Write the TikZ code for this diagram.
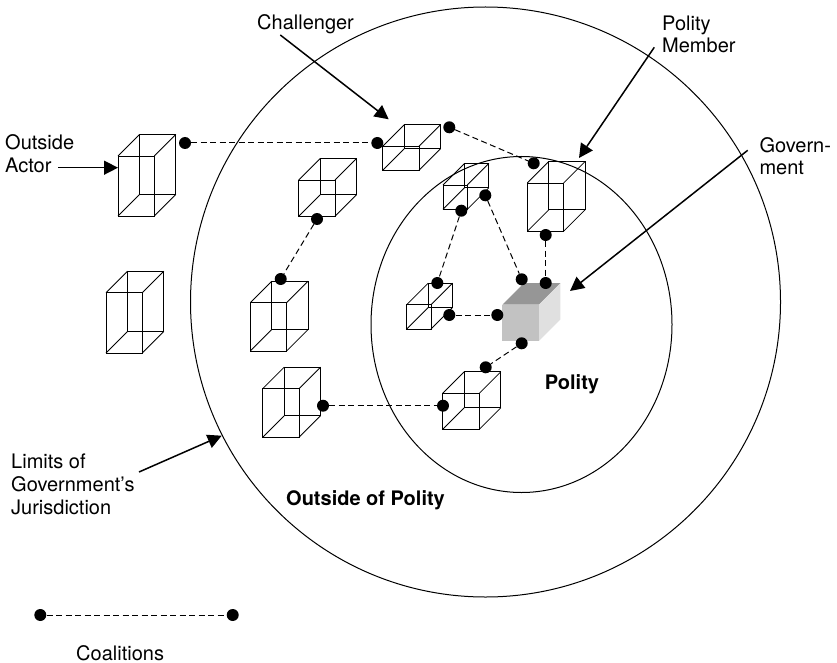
\documentclass[tikz,border=0pt]{standalone}
\usepackage{fontspec}
\setmainfont{TeX Gyre Heros}
\usetikzlibrary{arrows.meta}
\tikzset{
  dot/.style={circle, fill=black, inner sep=0pt, minimum size=12pt},
  coalition/.style={dash pattern=on 6pt off 3.5pt, line width=1pt},
  pointer/.style={-{Triangle[length=14pt,width=14pt]}, line width=1.5pt},
  wire/.style={line width=.8pt},
  label/.style={inner sep=0pt, align=left, font=\fontsize{20}{23}\selectfont},
  boldlabel/.style={inner sep=0pt, font=\fontsize{20}{23}\selectfont\bfseries},
}
% x, y of the front top left corner, then width and height
\newcommand{\wirebox}[4]{
  \draw[wire] (#1,#2) rectangle ++(#3,#4);
  \draw[wire] (#1+21.5,#2-21.5) rectangle ++(#3,#4);
  \draw[wire] (#1,#2) -- ++(21.5,-21.5);
  \draw[wire] (#1+#3,#2) -- ++(21.5,-21.5);
  \draw[wire] (#1,#2+#4) -- ++(21.5,-21.5);
  \draw[wire] (#1+#3,#2+#4) -- ++(21.5,-21.5);
}
\begin{document}
\begin{tikzpicture}[x=1pt, y=-1pt]
\useasboundingbox (0,0) rectangle (837,663);

\draw[line width=1pt] (485.5,302) circle [radius=295pt];
\draw[line width=1pt] (521.5,324.5) ellipse [x radius=150.5pt, y radius=168pt];

\wirebox{118}{156}{36.3}{60}
\wirebox{106}{292.7}{36.3}{60.3}
\wirebox{298.7}{180}{36.3}{36.3}
\wirebox{250.3}{302.7}{36.3}{48.3}
\wirebox{262.7}{388.7}{36.3}{48.6}
\wirebox{382.7}{146.3}{36.3}{24}
\wirebox{443}{185}{24.3}{24.3}
\wirebox{527.3}{183}{36.3}{48.3}
\wirebox{406.7}{304.7}{24.3}{24.3}
\wirebox{442.7}{393.3}{36.6}{36}

% government
\fill[black!41] (502.3,304.7) -- (523.8,283.2) -- (560.3,283.2) -- (538.8,304.7) -- cycle;
\fill[black!12] (538.8,304.7) -- (560.3,283.2) -- (560.3,319.5) -- (538.8,341) -- cycle;
\fill[black!24] (502.3,304.7) rectangle (538.8,341);

\node[dot] (actorright) at (185,143) {};
\node[dot] (challengerleft) at (377.3,143) {};
\node[dot] (challengerright) at (449.3,127.3) {};
\node[dot] (membertop) at (533.7,163.3) {};
\node[dot] (memberbottom) at (545.7,235) {};
\node[dot] (smallright) at (485.3,195.3) {};
\node[dot] (smallbottom) at (461.3,210.7) {};
\node[dot] (lefttop) at (437.3,283) {};
\node[dot] (leftright) at (449.3,315) {};
\node[dot] (govtopleft) at (521.7,279.3) {};
\node[dot] (govtopright) at (545.7,283) {};
\node[dot] (govleft) at (497.3,315) {};
\node[dot] (govbottom) at (521.7,343.3) {};
\node[dot] (lowertop) at (485.7,367.3) {};
\node[dot] (lowerleft) at (443,405.7) {};
\node[dot] (midbottom) at (317,219) {};
\node[dot] (midtop) at (280.7,279) {};
\node[dot] (outerright) at (323,405.7) {};
\node[dot] (legendleft) at (40.3,615) {};
\node[dot] (legendright) at (232.7,615) {};

\draw[coalition] (actorright) -- (challengerleft);
\draw[coalition] (challengerright) -- (membertop);
\draw[coalition] (smallbottom) -- (lefttop);
\draw[coalition] (smallright) -- (govtopleft);
\draw[coalition] (memberbottom) -- (govtopright);
\draw[coalition] (leftright) -- (govleft);
\draw[coalition] (govbottom) -- (lowertop);
\draw[coalition] (midbottom) -- (midtop);
\draw[coalition] (outerright) -- (lowerleft);
\draw[coalition] (legendleft) -- (legendright);

\node[label, anchor=base west] (challenger) at (257,30) {Challenger};
\node[label, anchor=base west] (outside) at (5,150) {Outside};
\node[label, anchor=base west] (actor) at (5,172.7) {Actor};
\node[label, anchor=base west] (polity) at (662,30.7) {Polity};
\node[label, anchor=base west] (member) at (662,53) {Member};
\node[label, anchor=base west] (govern) at (759.3,153) {Govern-};
\node[label, anchor=base west] (ment) at (759.3,175) {ment};
\node[label, anchor=base west] (limits) at (11,468.3) {Limits of};
\node[label, anchor=base west] (government) at (11,491) {Government’s};
\node[label, anchor=base west] (jurisdiction) at (11,514) {Jurisdiction};
\node[label, anchor=base west] (coalitions) at (76,660) {Coalitions};
\node[boldlabel, anchor=base west] (inner) at (544.7,389.3) {Polity};
\node[boldlabel, anchor=base west] (outer) at (286,505) {Outside of Polity};

\coordinate (challengertail) at (280.3,35);
\coordinate (challengertip) at (388.7,119.3);
\coordinate (actortail) at (58,167.7);
\coordinate (actortip) at (118,167.7);
\coordinate (membertail) at (654.3,47.3);
\coordinate (membertip) at (579,158);
\coordinate (govtail) at (747.7,150.3);
\coordinate (govtip) at (570,291);
\coordinate (limitstail) at (139,472);
\coordinate (limitstip) at (221.7,435.7);

\draw[pointer] (challengertail) -- (challengertip);
\draw[pointer] (actortail) -- (actortip);
\draw[pointer] (membertail) -- (membertip);
\draw[pointer] (govtail) -- (govtip);
\draw[pointer] (limitstail) -- (limitstip);
\end{tikzpicture}
\end{document}
